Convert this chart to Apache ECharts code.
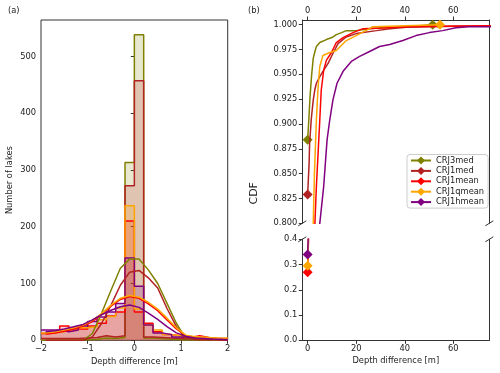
<!DOCTYPE html>
<html><head><meta charset="utf-8">
<script src="https://cdn.jsdelivr.net/npm/echarts@6/dist/echarts.min.js"></script>
<style>html,body{margin:0;padding:0;background:#fff}#c{width:500px;height:373px}</style>
</head><body><div id="c"></div>
<script>
const seriesNames = ['CRJ3med','CRJ1med','CRJ1mean','CRJ1qmean','CRJ1hmean'];
const seriesColors = ['#808000','#b22222','#ff0000','#ffa500','#800080'];

// histogram bins (panel a)
const binEdges = [-2.0,-1.8,-1.6,-1.4,-1.2,-1.0,-0.8,-0.6,-0.4,-0.2,0.0,0.2,0.4,0.6,0.8,1.0,1.2,1.4,1.6,1.8,2.0];
const binCenters = [-1.9,-1.7,-1.5,-1.3,-1.1,-0.9,-0.7,-0.5,-0.3,-0.1,0.1,0.3,0.5,0.7,0.9,1.1,1.3,1.5,1.7,1.9];
const histCRJ3med   = [0,0,0,0,1,2,4,3,5,313,538,4,3,2,1,1,0,0,0,0];
const histCRJ1med   = [3,3,3,3,4,5,8,6,8,272,457,6,5,4,3,2,1,1,1,0];
const histCRJ1mean  = [12,15,25,20,20,25,30,43,50,210,50,30,15,10,8,5,8,5,3,3];
const histCRJ1qmean = [13,14,17,18,22,24,36,42,57,237,55,27,18,10,8,7,6,5,3,4];
const histCRJ1hmean = [18,18,15,18,25,33,41,50,65,145,95,27,13,10,6,4,3,2,2,1];
// density curves read at bin centres
const kdeCRJ3med   = [0,0,0,0,0,12,48,88,127,143,143,124,100,65,30,3,2,1,1,0];
const kdeCRJ1med   = [0,0,0,0,0,6,30,62,97,120,123,110,92,56,24,4,2,1,1,0];
const kdeCRJ1mean  = [11,13,16,20,25,33,46,60,72,77,74,64,52,36,20,8,5,4,3,2];
const kdeCRJ1qmean = [13,15,18,22,27,35,47,62,74,79,76,67,55,39,22,9,6,5,4,3];
const kdeCRJ1hmean = [15,17,20,24,28,36,45,53,59,62,58,48,37,24,13,7,4,3,2,2];

// CDF curves (panel b)
const cdfX_CRJ3med = [0,0.5,1.0,1.6,2.3,3.0,3.6,5.0,7.7,10,11.8,14,15.9,20,25.5,30,40.6,51.5];
const cdfY_CRJ3med = [0.884,0.905,0.928,0.948,0.966,0.973,0.978,0.982,0.985,0.987,0.990,0.992,0.994,0.994,0.996,0.997,0.998,1.000];
const cdfX_CRJ1med = [0,0.6,0.8,1.5,2.3,3.0,3.6,5.0,6.3,8.4,10.4,12.5,15.9,20,28.3,33.8,40.6,50,60,80];
const cdfY_CRJ1med = [0.829,0.86,0.88,0.905,0.924,0.935,0.941,0.9476,0.953,0.961,0.971,0.981,0.9876,0.991,0.994,0.996,0.9975,0.998,0.9985,0.999];
const cdfX_CRJ1mean = [0,0.5,1.0,2.0,3.0,3.6,5.0,5.6,6.6,7.7,9.8,11.8,14.6,18.7,22.8,31,40.6,55,80];
const cdfY_CRJ1mean = [0.27,0.45,0.58,0.72,0.80,0.837,0.904,0.934,0.954,0.964,0.972,0.982,0.987,0.992,0.996,0.9966,0.998,0.9985,0.999];
const cdfX_CRJ1qmean = [0,0.5,1.0,1.6,2.3,2.8,3.6,4.3,5.0,6.3,9.1,11.8,15.9,20,25.5,26.8,40,54.5];
const cdfY_CRJ1qmean = [0.295,0.48,0.6,0.72,0.80,0.85,0.904,0.937,0.958,0.969,0.972,0.974,0.984,0.989,0.996,0.998,0.999,1.0];
const cdfX_CRJ1hmean = [0,0.3,1,2,3,4,5,6.6,8,9.1,10.4,12.1,14.6,18,21.4,25.5,29.6,33.8,39.2,44.6,50.1,55.6,61,66.4,80];
const cdfY_CRJ1hmean = [0.34,0.42,0.52,0.63,0.71,0.76,0.80,0.837,0.884,0.904,0.924,0.941,0.953,0.963,0.968,0.973,0.978,0.98,0.984,0.989,0.992,0.994,0.997,0.998,0.998];

// tick labels
const histTicksX = [-2,-1,0,1,2];
const histTicksY = [0,100,200,300,400,500];
const cdfTicksX = [0,20,40,60];
const cdfTicksYTop = [0.800,0.825,0.850,0.875,0.900,0.925,0.950,0.975,1.000];
const cdfTicksYBottom = [0.0,0.1,0.2,0.3,0.4];

const hists = [histCRJ3med,histCRJ1med,histCRJ1mean,histCRJ1qmean,histCRJ1hmean];
const kdes = [kdeCRJ3med,kdeCRJ1med,kdeCRJ1mean,kdeCRJ1qmean,kdeCRJ1hmean];
const cdfXs = [cdfX_CRJ3med,cdfX_CRJ1med,cdfX_CRJ1mean,cdfX_CRJ1qmean,cdfX_CRJ1hmean];
const cdfYs = [cdfY_CRJ3med,cdfY_CRJ1med,cdfY_CRJ1mean,cdfY_CRJ1qmean,cdfY_CRJ1hmean];

const FONT = 'DejaVu Sans';
const TXT = '#222';
const AX = '#333';
const fs = 8.3;
const minus = v => (v < 0 ? '\u2212' + Math.abs(v) : String(v));

function axisBase(extra) {
  return Object.assign({
    type: 'value',
    splitLine: {show: false},
    axisLine: {show: true, onZero: false, lineStyle: {color: AX, width: 1}},
    axisTick: {show: true, length: 3.5, lineStyle: {color: AX, width: 1}},
    axisLabel: {fontFamily: FONT, fontSize: fs, color: TXT, margin: 5}
  }, extra);
}
function frameAxis(extra) {
  return Object.assign({
    type: 'value',
    splitLine: {show: false},
    axisLine: {show: true, onZero: false, lineStyle: {color: AX, width: 1}},
    axisTick: {show: false},
    axisLabel: {show: false}
  }, extra);
}

const GL = 302.3, GW = 187;
const chart = echarts.init(document.getElementById('c'), null, {renderer: 'canvas'});
const series = [];

hists.forEach((h, k) => {
  series.push({
    name: seriesNames[k] + ' hist', type: 'line', xAxisIndex: 0, yAxisIndex: 0,
    step: 'end', symbol: 'none', z: 2,
    data: binEdges.map((e, i) => [e, h[Math.min(i, h.length - 1)]]),
    lineStyle: {color: seriesColors[k], width: 1.5},
    itemStyle: {color: seriesColors[k]},
    areaStyle: {color: seriesColors[k], opacity: 0.18}
  });
});
kdes.forEach((d, k) => {
  series.push({
    name: seriesNames[k] + ' density', type: 'line', xAxisIndex: 0, yAxisIndex: 0,
    symbol: 'none', z: 3,
    data: binCenters.map((c, i) => [c, d[i]]),
    lineStyle: {color: seriesColors[k], width: 1.5},
    itemStyle: {color: seriesColors[k]}
  });
});
[[1, 1], [2, 3]].forEach(([xi, yi]) => {
  cdfXs.forEach((xs, k) => {
    const last = xs.length - 1;
    series.push({
      name: seriesNames[k], type: 'line', xAxisIndex: xi, yAxisIndex: yi,
      symbol: 'diamond', showSymbol: true, showAllSymbol: true, clip: true, z: 3 + k,
      symbolSize: (v, p) => (p.dataIndex === 0 || p.dataIndex === last) ? 10 : 0,
      data: xs.map((x, i) => [x, cdfYs[k][i]]),
      lineStyle: {color: seriesColors[k], width: 1.5},
      itemStyle: {color: seriesColors[k]}
    });
  });
});

chart.setOption({
  animation: false,
  backgroundColor: '#fff',
  title: [
    {text: '(a)', left: 3, top: 2, textStyle: {fontFamily: FONT, fontSize: fs, fontWeight: 'normal', color: TXT}},
    {text: '(b)', left: 243, top: 2, textStyle: {fontFamily: FONT, fontSize: fs, fontWeight: 'normal', color: TXT}}
  ],
  grid: [
    {left: 41, top: 20, width: 186.7, height: 320.3, show: true, borderColor: AX, borderWidth: 1, backgroundColor: 'transparent'},
    {left: GL, top: 20, width: GW, height: 203.3},
    {left: GL, top: 239.3, width: GW, height: 101}
  ],
  xAxis: [
    axisBase({gridIndex: 0, min: -2, max: 2,
      axisLine: {show: false},
      axisTick: {show: true, length: 3.5, lineStyle: {color: AX}, customValues: histTicksX},
      axisLabel: {fontFamily: FONT, fontSize: fs, color: TXT, margin: 5, customValues: histTicksX, formatter: minus},
      name: 'Depth difference [m]', nameLocation: 'middle', nameGap: 17,
      nameTextStyle: {fontFamily: FONT, fontSize: fs, color: TXT}}),
    axisBase({gridIndex: 1, min: -2.2, max: 74.8, position: 'top',
      axisTick: {show: true, length: 3.5, lineStyle: {color: AX}, customValues: cdfTicksX},
      axisLabel: {fontFamily: FONT, fontSize: fs, color: TXT, margin: 5, customValues: cdfTicksX}}),
    axisBase({gridIndex: 2, min: -2.2, max: 74.8, position: 'bottom',
      axisTick: {show: true, length: 3.5, lineStyle: {color: AX}, customValues: cdfTicksX},
      axisLabel: {fontFamily: FONT, fontSize: fs, color: TXT, margin: 5, customValues: cdfTicksX},
      name: 'Depth difference [m]', nameLocation: 'middle', nameGap: 17,
      nameTextStyle: {fontFamily: FONT, fontSize: fs, color: TXT}})
  ],
  yAxis: [
    axisBase({gridIndex: 0, min: 0, max: 564,
      axisLine: {show: false},
      axisTick: {show: true, length: 3.5, lineStyle: {color: AX}, customValues: histTicksY},
      axisLabel: {fontFamily: FONT, fontSize: fs, color: TXT, margin: 5, customValues: histTicksY},
      name: 'Number of lakes', nameLocation: 'middle', nameGap: 27,
      nameTextStyle: {fontFamily: FONT, fontSize: fs, color: TXT}}),
    axisBase({gridIndex: 1, min: 0.8, max: 1.0047, position: 'left',
      axisTick: {show: true, length: 3.5, lineStyle: {color: AX}, customValues: cdfTicksYTop},
      axisLabel: {fontFamily: FONT, fontSize: fs, color: TXT, margin: 5, customValues: cdfTicksYTop, formatter: v => v.toFixed(3)}}),
    frameAxis({gridIndex: 1, min: 0.8, max: 1.0047, position: 'right'}),
    axisBase({gridIndex: 2, min: 0, max: 0.4, position: 'left',
      axisTick: {show: true, length: 3.5, lineStyle: {color: AX}, customValues: cdfTicksYBottom},
      axisLabel: {fontFamily: FONT, fontSize: fs, color: TXT, margin: 5, customValues: cdfTicksYBottom, formatter: v => v.toFixed(1)}}),
    frameAxis({gridIndex: 2, min: 0, max: 0.4, position: 'right'})
  ],
  legend: {
    data: seriesNames, orient: 'vertical', left: 407, top: 154.5,
    itemWidth: 20, itemHeight: 10, itemGap: 2.4,
    padding: [2, 4, 2, 3],
    backgroundColor: 'rgba(255,255,255,0.9)', borderColor: '#ccc', borderWidth: 1, borderRadius: 3,
    textStyle: {fontFamily: FONT, fontSize: fs, color: TXT}
  },
  series: series
});

// break marks & shared y label
const pTL = chart.convertToPixel({xAxisIndex: 1, yAxisIndex: 1}, [-2.2, 0.8]);
const pTR = chart.convertToPixel({xAxisIndex: 1, yAxisIndex: 1}, [74.8, 0.8]);
const pBL = chart.convertToPixel({xAxisIndex: 2, yAxisIndex: 3}, [-2.2, 0.4]);
const pBR = chart.convertToPixel({xAxisIndex: 2, yAxisIndex: 3}, [74.8, 0.4]);
const mark = p => ({type: 'line', shape: {x1: p[0] - 4, y1: p[1] + 2.5, x2: p[0] + 4, y2: p[1] - 2.5},
  style: {stroke: AX, lineWidth: 1}, z: 100});
chart.setOption({
  graphic: [
    mark(pTL), mark(pTR), mark(pBL), mark(pBR),
    {type: 'text', x: pTL[0] - 48, y: pTL[1] - 30, rotation: Math.PI / 2,
     style: {text: 'CDF', fontFamily: FONT, fontSize: 11, fill: TXT, align: 'center', verticalAlign: 'middle'}, z: 100}
  ]
});
</script>
</body></html>
